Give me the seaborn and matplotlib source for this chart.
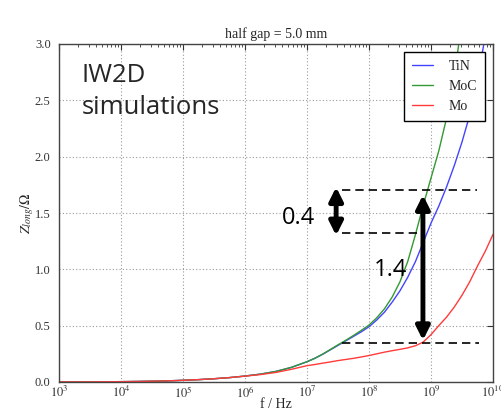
import numpy as np
import pandas as pd
import matplotlib
matplotlib.use("Agg")
import matplotlib.pyplot as plt
import seaborn as sns

# ---- data ----
log_f = [3.0, 3.25, 3.5, 3.75, 4.0, 4.25, 4.5, 4.75, 5.0, 5.25, 5.5, 5.75, 6.0,
         6.25, 6.5, 6.75, 7.0, 7.125, 7.25, 7.375, 7.5, 7.625, 7.75, 7.875, 8.0,
         8.125, 8.25, 8.375, 8.5, 8.625, 8.75, 8.875, 9.0, 9.125, 9.25, 9.375,
         9.5, 9.625, 9.75, 9.875, 10.0]
tin = [0.0, 0.0005, 0.001, 0.002, 0.003, 0.0045, 0.007, 0.01, 0.015, 0.021, 0.029,
       0.039, 0.053, 0.07, 0.094, 0.13, 0.18, 0.21, 0.245, 0.285, 0.325, 0.365,
       0.405, 0.445, 0.49, 0.55, 0.62, 0.71, 0.81, 0.93, 1.07, 1.24, 1.41, 1.56,
       1.73, 1.92, 2.13, 2.37, 2.68, 3.07, 3.5]
moc = [0.0, 0.0005, 0.001, 0.002, 0.003, 0.0045, 0.007, 0.01, 0.015, 0.021, 0.029,
       0.039, 0.053, 0.07, 0.094, 0.13, 0.18, 0.21, 0.247, 0.288, 0.33, 0.37,
       0.413, 0.458, 0.505, 0.57, 0.65, 0.755, 0.89, 1.07, 1.31, 1.57, 1.81, 2.05,
       2.34, 2.72, 3.2, np.nan, np.nan, np.nan, np.nan]
mo = [0.0, 0.0005, 0.001, 0.002, 0.003, 0.0045, 0.007, 0.01, 0.015, 0.021, 0.029,
      0.039, 0.052, 0.066, 0.085, 0.113, 0.145, 0.155, 0.167, 0.178, 0.19, 0.2,
      0.21, 0.222, 0.235, 0.25, 0.265, 0.278, 0.29, 0.303, 0.322, 0.355, 0.42,
      0.5, 0.575, 0.665, 0.77, 0.89, 1.03, 1.16, 1.31]
series_names = ["TiN", "MoC", "Mo"]
series_colors = ["#4444ff", "#339933", "#ff3b3b"]

# annotation values
dash_levels = [1.70, 1.325, 0.35]
dash_start = [7.56, 7.56, 7.56]
dash_end = [9.75, 8.77, 9.77]
arrow_x = [7.47, 8.87]
arrow_y0 = [1.30, 0.37]
arrow_y1 = [1.73, 1.66]
arrow_labels = ["0.4", "1.4"]
label_pos = [(6.86, 1.455), (8.34, 0.99)]

title = "half gap = 5.0 mm"
xlabel = "f / Hz"
ylabel = r"$Z_{long}/\Omega$"

# ---- build frame ----
freq = [10 ** v for v in log_f]
df = pd.DataFrame({
    "f": freq * 3,
    "Z": tin + moc + mo,
    "material": sum([[n] * len(freq) for n in series_names], []),
}).dropna()

sns.set_style("white")
plt.rcParams["font.family"] = ["Liberation Serif", "DejaVu Serif"]
plt.rcParams["mathtext.fontset"] = "stix"

fig = plt.figure(figsize=(5.02, 4.12), dpi=100)
ax = fig.add_axes([59 / 502, 1 - 382 / 412, (493 - 59) / 502, (382 - 44) / 412])

sns.lineplot(data=df, x="f", y="Z", hue="material", hue_order=series_names,
             palette=series_colors, linewidth=1.0, ax=ax, sort=False,
             estimator=None)

ax.set_xscale("log")
ax.set_xlim(1e3, 1e10)
ax.set_ylim(0, 3.0)
ax.set_yticks(np.arange(0, 3.01, 0.5))
ax.set_yticklabels([f"{v:.1f}" for v in np.arange(0, 3.01, 0.5)])
ax.set_xticks([10 ** k for k in range(3, 11)])
ax.set_xticklabels([rf"$10^{{{k}}}$" for k in range(3, 11)])

ax.grid(True, which="major", linestyle=(0, (1, 2)), color="#9a9a9a", linewidth=0.8)
ax.tick_params(axis="y", which="major", pad=6)
ax.tick_params(axis="x", which="major", pad=2)
ax.tick_params(which="major", direction="in", length=4, top=True, right=True,
               labelsize=9, colors="#333333")
ax.tick_params(which="minor", direction="in", length=2, top=True, right=True,
               colors="#333333")
for s in ax.spines.values():
    s.set_color("#444444")
    s.set_linewidth(1.0)

ax.set_title(title, fontsize=10, pad=4)
ax.set_xlabel(xlabel, fontsize=10, labelpad=-2)
ax.set_ylabel(ylabel, fontsize=10, labelpad=-1)

handles, labels = ax.get_legend_handles_labels()
leg = ax.legend(handles, labels, loc="upper right", fontsize=10, fancybox=False,
                framealpha=1, edgecolor="black", handlelength=1.45,
                borderaxespad=0.55, labelspacing=0.5, handletextpad=1.15,
                borderpad=0.6)
leg.get_frame().set_linewidth(1.0)

# dashed reference lines
for y, a, b in zip(dash_levels, dash_start, dash_end):
    ax.hlines(y, 10 ** a, 10 ** b, colors="black", linestyles=(0, (5, 3)), linewidth=1.2)

# arrows
for x, y0, y1 in zip(arrow_x, arrow_y0, arrow_y1):
    ax.annotate("", xy=(10 ** x, y0), xytext=(10 ** x, y1),
                arrowprops=dict(arrowstyle="<|-|>,head_length=0.8,head_width=0.4",
                                color="black", lw=3.5, shrinkA=0, shrinkB=0))

sans = ["Open Sans", "DejaVu Sans"]
for t, (lx, ly) in zip(arrow_labels, label_pos):
    ax.text(10 ** lx, ly, t, fontsize=17, family=sans, color="black",
            ha="center", va="center")

fig.text(82 / 502, 1 - 75 / 412, "IW2D", fontsize=18.5, family=sans, va="center", ha="left")
fig.text(82 / 502, 1 - 108 / 412, "simulations", fontsize=18.5, family=sans, va="center", ha="left")

fig.savefig("out.png", dpi=100)
